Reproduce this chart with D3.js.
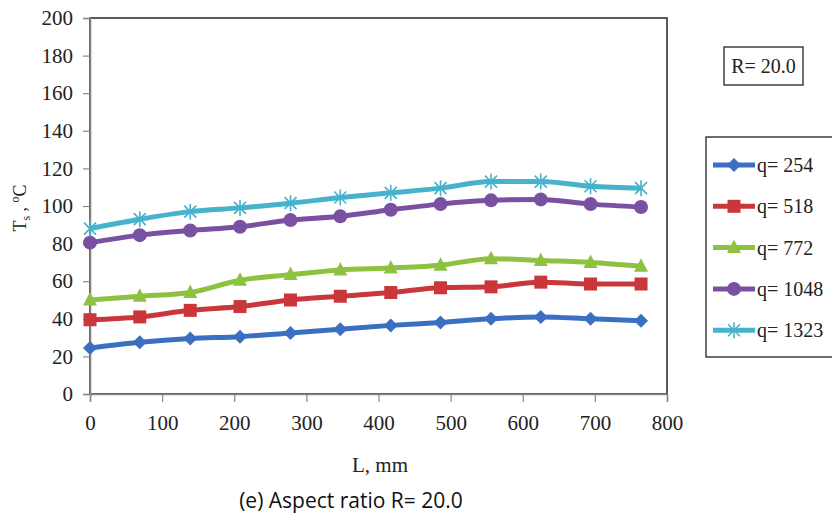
<!DOCTYPE html>
<html lang="en">
<head>
<meta charset="UTF-8">
<title>Ts vs L, R = 20.0</title>
<script src="https://d3js.org/d3.v7.min.js"></script>
<style>
    body { margin: 0; background: #fff; }
    svg { display: block; }
    .tick text { font-family: "Liberation Serif", serif; font-size: 21px; fill: #222; }
    .serif { font-family: "Liberation Serif", serif; fill: #222; }
</style>
</head>
<body>
<svg width="832" height="517"></svg>
<script>
    // data
    const L = [0, 69, 139, 208, 278, 347, 417, 486, 556, 625, 694, 764];
    const q254  = [24.5, 27.5, 29.5, 30.5, 32.5, 34.5, 36.5, 38, 40, 41, 40, 39];
    const q518  = [39.5, 41, 44.5, 46.5, 50, 52, 54, 56.5, 57, 59.5, 58.5, 58.5];
    const q772  = [50, 52, 54, 60.5, 63.5, 66, 67, 68.5, 72, 71, 70, 68];
    const q1048 = [80.5, 84.5, 87, 89, 92.5, 94.5, 98, 101, 103, 103.5, 101, 99.5];
    const q1323 = [88, 93, 97, 99, 101.5, 104.5, 107, 109.5, 113, 113, 110.5, 109.5];

    const seriesNames = ["q= 254", "q= 518", "q= 772", "q= 1048", "q= 1323"];
    const seriesValues = [q254, q518, q772, q1048, q1323];
    const colors = ["#3b6fc2", "#c9373a", "#8fc140", "#7a50a2", "#46b2cc"];
    const markers = ["diamond", "square", "triangle", "circle", "asterisk"];

    const xTicks = [0, 100, 200, 300, 400, 500, 600, 700, 800];
    const yTicks = [0, 20, 40, 60, 80, 100, 120, 140, 160, 180, 200];

    const svg = d3.select("svg");
    const plotL = 90, plotR = 667, plotT = 18, plotB = 394;

    const x = d3.scaleLinear().domain([0, 800]).range([plotL, plotR]);
    const y = d3.scaleLinear().domain([0, 200]).range([plotB, plotT]);

    // plot frame
    svg.append("rect")
        .attr("x", plotL).attr("y", plotT)
        .attr("width", plotR - plotL).attr("height", plotB - plotT)
        .attr("fill", "none").attr("stroke", "#333").attr("stroke-width", 1.6);

    // axes
    const yAxis = svg.append("g")
        .attr("transform", `translate(${plotL},0)`)
        .call(d3.axisLeft(y).tickValues(yTicks).tickSize(7).tickPadding(10));
    const xAxis = svg.append("g")
        .attr("transform", `translate(0,${plotB})`)
        .call(d3.axisBottom(x).tickValues(xTicks).tickSize(8).tickPadding(13));
    [xAxis, yAxis].forEach(function (g) {
        g.select(".domain").attr("stroke", "#888").attr("stroke-width", 1.6);
        g.selectAll(".tick line").attr("stroke", "#888").attr("stroke-width", 1.2);
    });

    // marker drawing
    function drawMarker(g, type, color) {
        if (type === "diamond") {
            g.append("path").attr("d", "M0,-7L7,0L0,7L-7,0Z").attr("fill", color);
        } else if (type === "square") {
            g.append("rect").attr("x", -6.5).attr("y", -6.5).attr("width", 13).attr("height", 13).attr("fill", color);
        } else if (type === "triangle") {
            g.append("path").attr("d", "M0,-8L7,5.5L-7,5.5Z").attr("fill", color);
        } else if (type === "circle") {
            g.append("circle").attr("r", 7).attr("fill", color);
        } else {
            g.append("path")
                .attr("d", "M-6,-6L6,6M-6,6L6,-6M0,-8L0,8")
                .attr("stroke", color).attr("stroke-width", 1.6).attr("fill", "none");
        }
    }

    const line = d3.line()
        .x(function (d) { return x(d[0]); })
        .y(function (d) { return y(d[1]); })
        .curve(d3.curveMonotoneX);

    seriesValues.forEach(function (vals, i) {
        const pts = L.map(function (l, j) { return [l, vals[j]]; });
        svg.append("path")
            .datum(pts)
            .attr("d", line)
            .attr("fill", "none")
            .attr("stroke", colors[i])
            .attr("stroke-width", 5)
            .attr("stroke-linejoin", "round");
        pts.forEach(function (p) {
            const g = svg.append("g").attr("transform", `translate(${x(p[0])},${y(p[1])})`);
            drawMarker(g, markers[i], colors[i]);
        });
    });

    // R box
    svg.append("rect")
        .attr("x", 724).attr("y", 47).attr("width", 79).attr("height", 38)
        .attr("fill", "#fff").attr("stroke", "#222").attr("stroke-width", 1.3);
    svg.append("text").attr("class", "serif")
        .attr("x", 763.5).attr("y", 73)
        .attr("text-anchor", "middle").attr("font-size", 20)
        .text("R= 20.0");

    // legend
    svg.append("rect")
        .attr("x", 706).attr("y", 137).attr("width", 140).attr("height", 220)
        .attr("fill", "#fff").attr("stroke", "#222").attr("stroke-width", 1.3);
    seriesNames.forEach(function (name, i) {
        const ly = 165 + i * 41.3;
        svg.append("line")
            .attr("x1", 713).attr("x2", 755).attr("y1", ly).attr("y2", ly)
            .attr("stroke", colors[i]).attr("stroke-width", 5);
        const g = svg.append("g").attr("transform", `translate(734,${ly})`);
        drawMarker(g, markers[i], colors[i]);
        svg.append("text").attr("class", "serif")
            .attr("x", 757).attr("y", ly + 7)
            .attr("font-size", 20)
            .text(name);
    });

    // axis titles
    const yt = svg.append("text").attr("class", "serif")
        .attr("transform", "translate(26,208) rotate(-90)")
        .attr("text-anchor", "middle").attr("font-size", 18);
    yt.append("tspan").text("T");
    yt.append("tspan").attr("font-size", 12).attr("dy", 4).text("s");
    yt.append("tspan").attr("dy", -4).text(" , ");
    yt.append("tspan").attr("font-size", 12).attr("dy", -7).text("o");
    yt.append("tspan").attr("dy", 7).text("C");

    svg.append("text").attr("class", "serif")
        .attr("x", 380).attr("y", 472)
        .attr("text-anchor", "middle").attr("font-size", 21)
        .text("L, mm");

    svg.append("text")
        .attr("x", 351).attr("y", 508)
        .attr("text-anchor", "middle")
        .attr("font-family", "'Open Sans', sans-serif").attr("font-size", 21)
        .attr("fill", "#111")
        .text("(e) Aspect ratio R= 20.0");
</script>
</body>
</html>
